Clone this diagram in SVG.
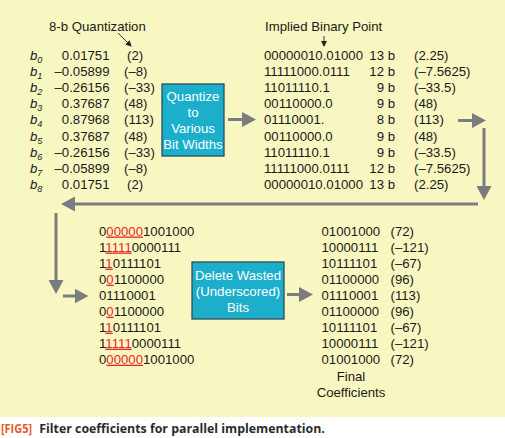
<svg xmlns="http://www.w3.org/2000/svg" width="505" height="438" viewBox="0 0 505 438">
<style>
text{font-family:"Liberation Sans",Arial,sans-serif;font-size:13.2px;fill:#1a1a1a}
.box{fill:#1bafcc;stroke:#2a4d58;stroke-width:1.3}
.bt{fill:#ffffff;text-anchor:middle}
.e{text-anchor:end}
.m{text-anchor:middle}
.bi{font-style:italic}
.sub{font-size:9px}
.r{fill:#e8262a;text-decoration:underline}
.cn{stroke:#7b7c80;stroke-width:3;fill:none}
.thin{stroke:#222;stroke-width:0.9;fill:none}
.cap{font-family:"Open Sans","Liberation Sans",sans-serif;font-size:12.5px;font-weight:bold;fill:#2b2b2b}
.fig{fill:#e8572b}
</style>
<defs>
<marker id="ah" markerUnits="userSpaceOnUse" markerWidth="14" markerHeight="15" refX="4" refY="7.5" orient="auto">
<path d="M0,0 L14,7.5 L0,15 Z" fill="#7b7c80"/>
</marker>
<marker id="sh" markerUnits="userSpaceOnUse" markerWidth="6" markerHeight="6" refX="5" refY="3" orient="auto">
<path d="M0,0 L6,3 L0,6 Z" fill="#222"/>
</marker>
</defs>
<rect x="0" y="0" width="505" height="417" fill="#f8f7c1"/>

<g id="label-8b">
<text x="49" y="30.7">8-b Quantization</text>
</g>
<g id="label-ibp">
<text x="265" y="30.7">Implied Binary Point</text>
</g>

<g id="coefficients">
<text class="bi" x="30" y="60">b<tspan class="sub" dy="3">0</tspan></text>
<text class="bi" x="30" y="76.1">b<tspan class="sub" dy="3">1</tspan></text>
<text class="bi" x="30" y="92.2">b<tspan class="sub" dy="3">2</tspan></text>
<text class="bi" x="30" y="108.3">b<tspan class="sub" dy="3">3</tspan></text>
<text class="bi" x="30" y="124.4">b<tspan class="sub" dy="3">4</tspan></text>
<text class="bi" x="30" y="140.5">b<tspan class="sub" dy="3">5</tspan></text>
<text class="bi" x="30" y="156.6">b<tspan class="sub" dy="3">6</tspan></text>
<text class="bi" x="30" y="172.7">b<tspan class="sub" dy="3">7</tspan></text>
<text class="bi" x="30" y="188.8">b<tspan class="sub" dy="3">8</tspan></text>
<text class="e" x="109.5" y="60">0.01751</text>
<text class="e" x="109.5" y="76.1">–0.05899</text>
<text class="e" x="109.5" y="92.2">–0.26156</text>
<text class="e" x="109.5" y="108.3">0.37687</text>
<text class="e" x="109.5" y="124.4">0.87968</text>
<text class="e" x="109.5" y="140.5">0.37687</text>
<text class="e" x="109.5" y="156.6">–0.26156</text>
<text class="e" x="109.5" y="172.7">–0.05899</text>
<text class="e" x="109.5" y="188.8">0.01751</text>
<text x="127" y="60">(2)</text>
<text x="124" y="76.1">(–8)</text>
<text x="124" y="92.2">(–33)</text>
<text x="124" y="108.3">(48)</text>
<text x="124" y="124.4">(113)</text>
<text x="124" y="140.5">(48)</text>
<text x="124" y="156.6">(–33)</text>
<text x="124" y="172.7">(–8)</text>
<text x="127" y="188.8">(2)</text>
</g>

<g id="quantize-box">
<rect class="box" x="162" y="84" width="62" height="72"/>
<text class="bt" x="193" y="101.4">Quantize</text>
<text class="bt" x="193" y="117">to</text>
<text class="bt" x="193" y="133">Various</text>
<text class="bt" x="193" y="148.7">Bit Widths</text>
</g>

<g id="quantized">
<text x="264" y="60">00000010.01000</text>
<text x="264" y="76.1">11111000.0111</text>
<text x="264" y="92.2">11011110.1</text>
<text x="264" y="108.3">00110000.0</text>
<text x="264" y="124.4">01110001.</text>
<text x="264" y="140.5">00110000.0</text>
<text x="264" y="156.6">11011110.1</text>
<text x="264" y="172.7">11111000.0111</text>
<text x="264" y="188.8">00000010.01000</text>
<text class="e" x="395" y="60">13 b</text>
<text class="e" x="395" y="76.1">12 b</text>
<text class="e" x="395" y="92.2">9 b</text>
<text class="e" x="395" y="108.3">9 b</text>
<text class="e" x="395" y="124.4">8 b</text>
<text class="e" x="395" y="140.5">9 b</text>
<text class="e" x="395" y="156.6">9 b</text>
<text class="e" x="395" y="172.7">12 b</text>
<text class="e" x="395" y="188.8">13 b</text>
<text x="414" y="60">(2.25)</text>
<text x="414" y="76.1">(–7.5625)</text>
<text x="414" y="92.2">(–33.5)</text>
<text x="414" y="108.3">(48)</text>
<text x="414" y="124.4">(113)</text>
<text x="414" y="140.5">(48)</text>
<text x="414" y="156.6">(–33.5)</text>
<text x="414" y="172.7">(–7.5625)</text>
<text x="414" y="188.8">(2.25)</text>
</g>

<g id="underscored">
<text x="99" y="235.5">0<tspan class="r">00000</tspan>1001000</text>
<text x="99" y="251.5">1<tspan class="r">1111</tspan>0000111</text>
<text x="99" y="267.6">1<tspan class="r">1</tspan>0111101</text>
<text x="99" y="283.6">0<tspan class="r">0</tspan>1100000</text>
<text x="99" y="299.6">01110001</text>
<text x="99" y="315.7">0<tspan class="r">0</tspan>1100000</text>
<text x="99" y="331.7">1<tspan class="r">1</tspan>0111101</text>
<text x="99" y="347.7">1<tspan class="r">1111</tspan>0000111</text>
<text x="99" y="363.7">0<tspan class="r">00000</tspan>1001000</text>
</g>

<g id="delete-box">
<rect class="box" x="192" y="262" width="92" height="57"/>
<text class="bt" x="238" y="279.7">Delete Wasted</text>
<text class="bt" x="238" y="295.6">(Underscored)</text>
<text class="bt" x="238" y="311.5">Bits</text>
</g>

<g id="final">
<text x="321.5" y="235.5">01001000</text>
<text x="321.5" y="251.5">10000111</text>
<text x="321.5" y="267.6">10111101</text>
<text x="321.5" y="283.6">01100000</text>
<text x="321.5" y="299.6">01110001</text>
<text x="321.5" y="315.7">01100000</text>
<text x="321.5" y="331.7">10111101</text>
<text x="321.5" y="347.7">10000111</text>
<text x="321.5" y="363.7">01001000</text>
<text x="390.5" y="235.5">(72)</text>
<text x="390.5" y="251.5">(–121)</text>
<text x="390.5" y="267.6">(–67)</text>
<text x="390.5" y="283.6">(96)</text>
<text x="390.5" y="299.6">(113)</text>
<text x="390.5" y="315.7">(96)</text>
<text x="390.5" y="331.7">(–67)</text>
<text x="390.5" y="347.7">(–121)</text>
<text x="390.5" y="363.7">(72)</text>
<text class="m" x="351" y="381.4">Final</text>
<text class="m" x="351" y="396.7">Coefficients</text>
</g>

<g id="connectors">
<line class="thin" x1="118" y1="33" x2="131" y2="46" marker-end="url(#sh)"/>
<line class="thin" x1="324" y1="36" x2="324" y2="46" marker-end="url(#sh)"/>
<line class="cn" x1="228" y1="119.5" x2="246" y2="119.5" marker-end="url(#ah)"/>
<line class="cn" x1="458" y1="120.5" x2="476" y2="120.5" marker-end="url(#ah)"/>
<line class="cn" x1="484" y1="128" x2="484" y2="190" marker-end="url(#ah)"/>
<line class="cn" x1="478" y1="204" x2="71" y2="204" marker-end="url(#ah)"/>
<line class="cn" x1="56" y1="213" x2="56" y2="284" marker-end="url(#ah)"/>
<line class="cn" x1="63" y1="296" x2="78.5" y2="296" marker-end="url(#ah)"/>
<line class="cn" x1="287" y1="294.5" x2="303" y2="294.5" marker-end="url(#ah)"/>
</g>

<g id="caption">
<text class="cap fig" x="1" y="433" textLength="31" lengthAdjust="spacingAndGlyphs">[FIG5]</text>
<text class="cap" x="39.3" y="433" textLength="285.5" lengthAdjust="spacingAndGlyphs">Filter coefficients for parallel implementation.</text>
</g>
</svg>
